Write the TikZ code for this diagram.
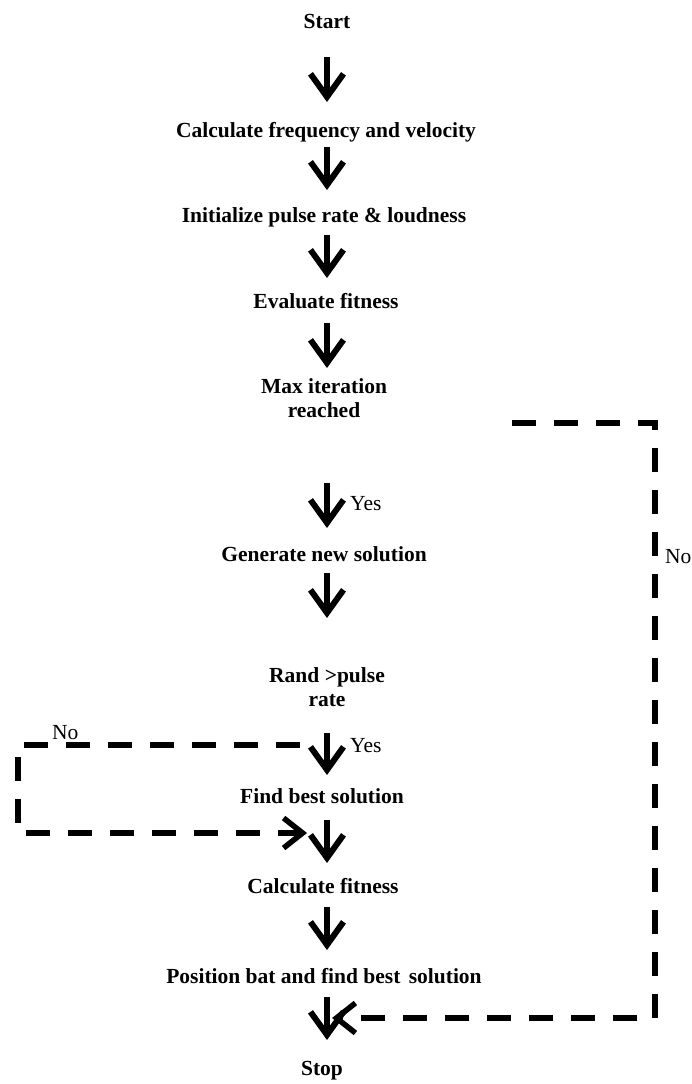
\documentclass[tikz,border=0pt]{standalone}
\usepackage{fontspec}
\setmainfont{Liberation Serif}
\usetikzlibrary{arrows.meta}
\begin{document}
\begin{tikzpicture}[x=1pt,y=-1pt,
  lbl/.style={font=\fontsize{21.5}{24}\selectfont\bfseries, inner sep=0pt, anchor=base},
  ans/.style={font=\fontsize{21.5}{24}\selectfont, inner sep=0pt, anchor=base west},
  flow/.style={line width=6pt, -{Straight Barb[length=23pt,width=33pt]}},
  back/.style={line width=5.5pt, dash pattern=on 24pt off 18pt, -{Straight Barb[length=19pt,width=30pt]}}]
\useasboundingbox (0,0) rectangle (691,1084);
% texts
\node[lbl] (start) at (327,28) {Start};
\node[lbl] (calc) at (326,137) {Calculate frequency and velocity};
\node[lbl] (init) at (324,222) {Initialize pulse rate \& loudness};
\node[lbl] (eval) at (326,308) {Evaluate fitness};
\node[lbl] (max) at (324,393) {\begin{tabular}[t]{@{}c@{}}Max iteration\\reached\end{tabular}};
\node[lbl] (gen) at (324,561) {Generate new solution};
\node[lbl] (rand) at (327,682) {\begin{tabular}[t]{@{}c@{}}Rand >pulse\\rate\end{tabular}};
\node[lbl] (find) at (322,803) {Find best solution};
\node[lbl] (cfit) at (323,893) {Calculate fitness};
\node[lbl] (pos) at (324,983) {Position bat and find best\hspace{3pt} solution};
\node[lbl] (stop) at (322,1075) {Stop};
% answer labels
\node[ans] (yes1) at (350,510) {Yes};
\node[ans] (yes2) at (350,752) {Yes};
\node[ans] (noL) at (52,739) {No};
\node[ans] (noR) at (665,563) {No};
% main flow arrows (x = 327)
\draw[flow] ([yshift=-29pt]start.base) -- ([xshift=1pt,yshift=35pt]calc.base);
\draw[flow] ([xshift=1pt,yshift=-10pt]calc.base) -- ([xshift=3pt,yshift=32pt]init.base);
\draw[flow] ([xshift=3pt,yshift=-13pt]init.base) -- ([xshift=1pt,yshift=30pt]eval.base);
\draw[flow] ([xshift=1pt,yshift=-15pt]eval.base) -- ([xshift=3pt,yshift=25pt]max.base);
\draw[flow] ([xshift=3pt,yshift=-90pt]max.base) -- ([xshift=3pt,yshift=33pt]gen.base);
\draw[flow] ([xshift=3pt,yshift=-12pt]gen.base) -- ([yshift=64pt]rand.base);
\draw[flow] ([yshift=-51pt]rand.base) -- ([xshift=5pt,yshift=28pt]find.base);
\draw[flow] ([xshift=5pt,yshift=-17pt]find.base) -- ([xshift=4pt,yshift=30pt]cfit.base);
\draw[flow] ([xshift=4pt,yshift=-14pt]cfit.base) -- ([xshift=3pt,yshift=33pt]pos.base);
\draw[flow] ([xshift=3pt,yshift=-14pt]pos.base) -- ([xshift=5pt,yshift=35pt]stop.base);
% dashed "No" loops
\coordinate (noRstart) at (512,423);
\coordinate (noRcorner) at (655,423);
\draw[back] (noRstart) -- (noRcorner) |- ([xshift=8pt,yshift=-35pt]pos.base);
\coordinate (noLstart) at (300,745);
\coordinate (noLcorner) at (18,745);
\draw[back] (noLstart) -- (noLcorner) |- ([xshift=-15pt,yshift=-30pt]find.base);
\end{tikzpicture}
\end{document}
